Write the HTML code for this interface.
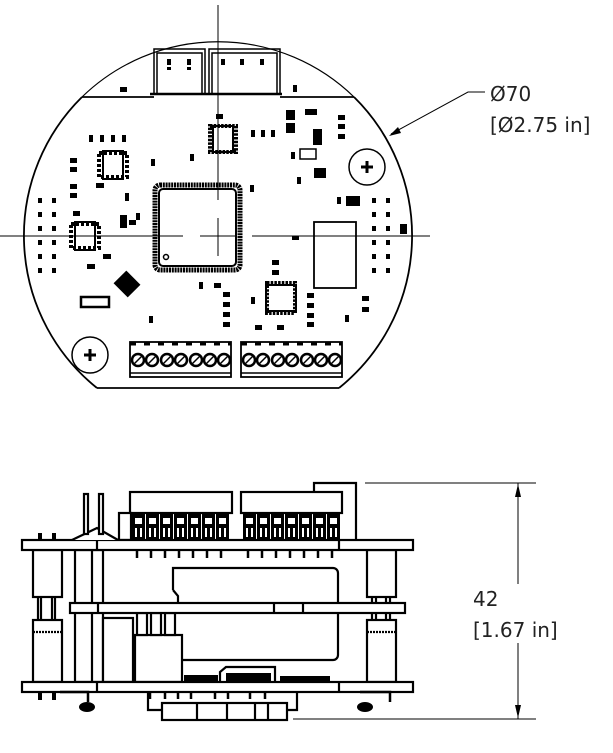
<!DOCTYPE html>
<html><head><meta charset="utf-8"><style>
html,body{margin:0;padding:0;background:#fff;}
svg{display:block;}
text{font-family:"DejaVu Sans","Liberation Sans",sans-serif;fill:#222;}
</style></head><body>
<svg width="613" height="753" viewBox="0 0 613 753" xmlns="http://www.w3.org/2000/svg">
<defs>
<g id="dots" fill="#000"><rect x="0" y="0" width="4" height="5"/><rect x="14" y="0" width="4" height="5"/><rect x="0" y="14" width="4" height="5"/><rect x="14" y="14" width="4" height="5"/><rect x="0" y="28" width="4" height="5"/><rect x="14" y="28" width="4" height="5"/><rect x="0" y="42" width="4" height="5"/><rect x="14" y="42" width="4" height="5"/><rect x="0" y="56" width="4" height="5"/><rect x="14" y="56" width="4" height="5"/><rect x="0" y="70" width="4" height="5"/><rect x="14" y="70" width="4" height="5"/></g>
<g id="scr"><rect x="0" y="0" width="13" height="27" fill="#000"/><rect x="3" y="5" width="7" height="6" fill="#fff"/><rect x="3" y="15" width="2" height="9" fill="#fff"/><rect x="8" y="15" width="2" height="9" fill="#fff"/></g>
</defs>
<g fill="none" stroke="#000" stroke-width="1.5">
<path d="M97,388 L339,388" stroke-width="1.8"/>
<path d="M97,388 A195,195 0 0 1 82,97" stroke-width="1.8"/>
<path d="M339,388 A195,195 0 0 0 354,97" stroke-width="1.8"/>
<path d="M82,97 A195,195 0 0 1 354,97" stroke-width="1.2"/>
<line x1="82" y1="97" x2="154" y2="97" stroke-width="1.8"/>
<line x1="280" y1="97" x2="354" y2="97" stroke-width="1.8"/>
<rect x="154" y="49" width="51" height="45"/>
<rect x="157" y="53" width="45" height="41"/>
<rect x="209" y="49" width="71" height="45"/>
<rect x="212" y="53" width="65" height="41"/>
<line x1="150" y1="94" x2="282" y2="94" stroke-width="2.5"/>
<g stroke-width="1">
<line x1="218" y1="5" x2="218" y2="200"/>
<line x1="218" y1="218" x2="218" y2="256"/>
<line x1="0" y1="236" x2="183" y2="236"/>
<line x1="200" y1="236" x2="235" y2="236"/>
<line x1="252" y1="236" x2="430" y2="236"/>
</g>
<rect x="155" y="185" width="85" height="85" rx="5" stroke-width="5" stroke-dasharray="2 0.8"/>
<rect x="159" y="189" width="77" height="77" rx="4" stroke-width="2"/>
<circle cx="166" cy="257" r="2.5"/>
<rect x="210" y="126" width="26" height="26" stroke-width="4" stroke-dasharray="2.5 1.2"/>
<rect x="213" y="126" width="20" height="26" stroke-width="2"/>
<rect x="99" y="153" width="28" height="24" stroke-width="4" stroke-dasharray="3 2"/>
<rect x="103" y="151" width="20" height="28" stroke-width="2"/>
<rect x="71" y="224" width="28" height="24" stroke-width="4" stroke-dasharray="3 2"/>
<rect x="75" y="222" width="20" height="28" stroke-width="2"/>
<rect x="267" y="283" width="28" height="30" stroke-width="4" stroke-dasharray="2.5 1.2"/>
<rect x="266" y="285" width="30" height="26" stroke-width="2"/>
<rect x="314" y="222" width="42" height="66" stroke-width="1.8"/>
<circle cx="367" cy="167" r="18"/>
<circle cx="90" cy="355" r="18"/>
<path d="M361,167h12M367,161v12M84,355h12M90,349v12" stroke-width="3"/>
<rect x="130" y="342" width="101" height="35" stroke-width="1.8"/>
<line x1="130" y1="373" x2="231" y2="373"/>
<rect x="241" y="342" width="101" height="35" stroke-width="1.8"/>
<line x1="241" y1="373" x2="342" y2="373"/>
<line x1="130" y1="344" x2="231" y2="344" stroke-width="3" stroke-dasharray="6 8"/>
<line x1="241" y1="344" x2="342" y2="344" stroke-width="3" stroke-dasharray="6 8"/>
<g stroke-width="2.5">
<circle cx="138" cy="360" r="6"/><circle cx="152" cy="360" r="6"/><circle cx="167" cy="360" r="6"/><circle cx="181" cy="360" r="6"/><circle cx="196" cy="360" r="6"/><circle cx="210" cy="360" r="6"/><circle cx="224" cy="360" r="6"/>
<circle cx="249" cy="360" r="6"/><circle cx="263" cy="360" r="6"/><circle cx="278" cy="360" r="6"/><circle cx="292" cy="360" r="6"/><circle cx="307" cy="360" r="6"/><circle cx="321" cy="360" r="6"/><circle cx="335" cy="360" r="6"/>
</g>
<g stroke-width="1.5">
<path d="M134,364l8,-8M148,364l8,-8M163,364l8,-8M177,364l8,-8M192,364l8,-8M206,364l8,-8M220,364l8,-8M245,364l8,-8M259,364l8,-8M274,364l8,-8M288,364l8,-8M303,364l8,-8M317,364l8,-8M331,364l8,-8"/>
</g>
<rect x="300" y="149" width="16" height="10"/>
<rect x="81" y="297" width="28" height="10" stroke-width="2.5"/>
</g>
<g fill="#000">
<rect x="167" y="59" width="4" height="6"/><rect x="187" y="59" width="4" height="6"/><rect x="167" y="67" width="4" height="3"/><rect x="187" y="67" width="4" height="3"/>
<rect x="221" y="59" width="4" height="6"/><rect x="240" y="59" width="4" height="6"/><rect x="260" y="59" width="4" height="6"/>
<rect x="120" y="87" width="7" height="5"/><rect x="293" y="85" width="4" height="7"/>
<rect x="89" y="135" width="4" height="7"/><rect x="100" y="135" width="4" height="7"/><rect x="111" y="135" width="4" height="7"/><rect x="122" y="135" width="4" height="7"/>
<rect x="251" y="130" width="4" height="7"/><rect x="261" y="130" width="4" height="7"/><rect x="271" y="130" width="4" height="7"/>
<rect x="70" y="158" width="7" height="5"/><rect x="70" y="167" width="7" height="5"/><rect x="70" y="184" width="7" height="5"/><rect x="70" y="193" width="7" height="5"/>
<rect x="96" y="183" width="8" height="5"/><rect x="151" y="159" width="4" height="7"/><rect x="190" y="154" width="4" height="7"/><rect x="125" y="193" width="4" height="8"/>
<rect x="136" y="213" width="4" height="7"/><rect x="129" y="220" width="7" height="5"/><rect x="73" y="211" width="7" height="5"/>
<rect x="216" y="114" width="7" height="5"/><rect x="291" y="152" width="4" height="7"/><rect x="297" y="177" width="4" height="7"/>
<rect x="250" y="185" width="4" height="7"/><rect x="292" y="236" width="7" height="4"/>
<rect x="338" y="115" width="7" height="5"/><rect x="338" y="124" width="7" height="5"/><rect x="338" y="134" width="7" height="5"/>
<rect x="314" y="168" width="12" height="10"/><rect x="346" y="196" width="14" height="10"/><rect x="337" y="197" width="4" height="7"/>
<rect x="305" y="109" width="12" height="6"/><rect x="313" y="129" width="9" height="16"/>
<rect x="286" y="110" width="9" height="10"/><rect x="286" y="123" width="9" height="10"/>
<rect x="103" y="254" width="8" height="5"/><rect x="87" y="264" width="8" height="5"/><rect x="120" y="215" width="7" height="13"/>
<rect x="117" y="275" width="20" height="18" transform="rotate(45 127 284)"/>
<rect x="149" y="316" width="4" height="7"/><rect x="199" y="282" width="4" height="7"/><rect x="214" y="283" width="7" height="5"/>
<rect x="223" y="292" width="7" height="5"/><rect x="223" y="302" width="7" height="5"/><rect x="223" y="312" width="7" height="5"/><rect x="223" y="322" width="7" height="5"/>
<rect x="251" y="297" width="4" height="7"/><rect x="255" y="325" width="7" height="5"/><rect x="277" y="325" width="7" height="5"/>
<rect x="272" y="260" width="7" height="5"/><rect x="272" y="270" width="7" height="5"/>
<rect x="307" y="293" width="7" height="5"/><rect x="307" y="303" width="7" height="5"/><rect x="307" y="313" width="7" height="5"/><rect x="307" y="322" width="7" height="5"/>
<rect x="345" y="315" width="4" height="7"/><rect x="362" y="296" width="7" height="5"/><rect x="362" y="307" width="7" height="5"/>
<rect x="400" y="224" width="7" height="10"/>
</g>
<use href="#dots" x="38" y="198"/>
<use href="#dots" x="372" y="198"/>
<g stroke="#000" stroke-width="1" fill="none">
<path d="M485,92 H468 L391,134"/>
</g>
<path d="M389,136 L398,127 L401,133 Z" fill="#000"/>
<text x="490" y="101" font-size="20">Ø70</text>
<text x="490" y="132" font-size="20">[Ø2.75 in]</text>

<!-- SIDE VIEW -->
<g fill="#fff" stroke="#000" stroke-width="2.2">
<rect x="33" y="550" width="29" height="47"/>
<path d="M38,597v23M41,597v23M52,597v23M55,597v23"/>
<rect x="33" y="620" width="29" height="62"/>
<line x1="33" y1="632" x2="62" y2="632" stroke-dasharray="2 1"/>
<rect x="367" y="550" width="29" height="47"/>
<path d="M372,597v23M376,597v23M386,597v23M390,597v23"/>
<rect x="367" y="620" width="29" height="62"/>
<line x1="367" y1="632" x2="396" y2="632" stroke-dasharray="2 1"/>
<rect x="75" y="550" width="28" height="132"/>
<line x1="92" y1="550" x2="92" y2="682"/>
<path d="M173,590 V568 H333 a5,5 0 0 1 5,5 V655 a5,5 0 0 1 -5,5 H181 M173,590 l5,6 V603"/>
<rect x="103" y="618" width="30" height="64"/>
<rect x="135" y="635" width="47" height="47"/>
<rect x="137" y="613" width="10" height="22"/><rect x="151" y="613" width="10" height="22"/><rect x="165" y="613" width="10" height="22"/>
<path d="M220,682 V672 l6,-5 H275 v15"/>
<rect x="162" y="703" width="125" height="17"/>
<path d="M197,703v17M227,703v17M255,703v17M268,703v17"/>
<path d="M148,690 v20 h14 M297,690 v20 h-10" fill="none"/>
<rect x="130" y="492" width="102" height="21"/>
<rect x="241" y="492" width="101" height="21"/>
<path d="M314,492 V483 H356 V540" fill="none"/>
<rect x="119" y="513" width="12" height="27"/>
<rect x="22" y="540" width="391" height="10"/>
<line x1="97" y1="540" x2="97" y2="550"/><line x1="339" y1="540" x2="339" y2="550"/>
<rect x="70" y="603" width="335" height="10"/>
<line x1="98" y1="603" x2="98" y2="613"/><line x1="274" y1="603" x2="274" y2="613"/><line x1="303" y1="603" x2="303" y2="613"/>
<rect x="22" y="682" width="391" height="10"/>
<line x1="97" y1="682" x2="97" y2="692"/><line x1="339" y1="682" x2="339" y2="692"/>
<path d="M72,540 L97,528 L118,540"/>
<rect x="84" y="494" width="4" height="40"/><rect x="99" y="494" width="4" height="40"/>
</g>
<use href="#scr" x="132" y="513"/><use href="#scr" x="146" y="513"/><use href="#scr" x="160" y="513"/><use href="#scr" x="174" y="513"/><use href="#scr" x="188" y="513"/><use href="#scr" x="202" y="513"/><use href="#scr" x="216" y="513"/>
<use href="#scr" x="243" y="513"/><use href="#scr" x="257" y="513"/><use href="#scr" x="271" y="513"/><use href="#scr" x="285" y="513"/><use href="#scr" x="299" y="513"/><use href="#scr" x="313" y="513"/><use href="#scr" x="327" y="513"/>
<g fill="#000">
<rect x="38" y="533" width="4" height="7"/><rect x="52" y="533" width="4" height="7"/>
<rect x="38" y="692" width="4" height="8"/><rect x="52" y="692" width="4" height="8"/>
<ellipse cx="87" cy="707" rx="8" ry="5"/><ellipse cx="365" cy="707" rx="8" ry="5"/>
<rect x="184" y="675" width="34" height="7"/><rect x="226" y="673" width="45" height="9"/>
<rect x="280" y="676" width="50" height="6"/>
</g>
<g fill="none" stroke="#000" stroke-width="2.5">
<path d="M137,550v8M151,550v8M165,550v8M179,550v8M193,550v8M207,550v8M221,550v8M248,550v8M262,550v8M276,550v8M290,550v8M304,550v8M318,550v8M332,550v8"/>
<path d="M150,692v7M165,692v7M178,692v7M191,692v7M215,692v7M228,692v7M250,692v7M265,692v7"/>
<path d="M60,692 h28 v10 M360,692 h30 v10"/>
</g>
<g stroke="#000" stroke-width="1">
<line x1="365" y1="483" x2="536" y2="483"/>
<line x1="293" y1="719" x2="536" y2="719"/>
<line x1="518" y1="483" x2="518" y2="584"/>
<line x1="518" y1="643" x2="518" y2="719"/>
</g>
<path d="M518,484 L515,497 L521,497 Z M518,718 L515,705 L521,705 Z" fill="#000"/>
<text x="473" y="606" font-size="20">42</text>
<text x="473" y="637" font-size="20">[1.67 in]</text>
</svg>
</body></html>
